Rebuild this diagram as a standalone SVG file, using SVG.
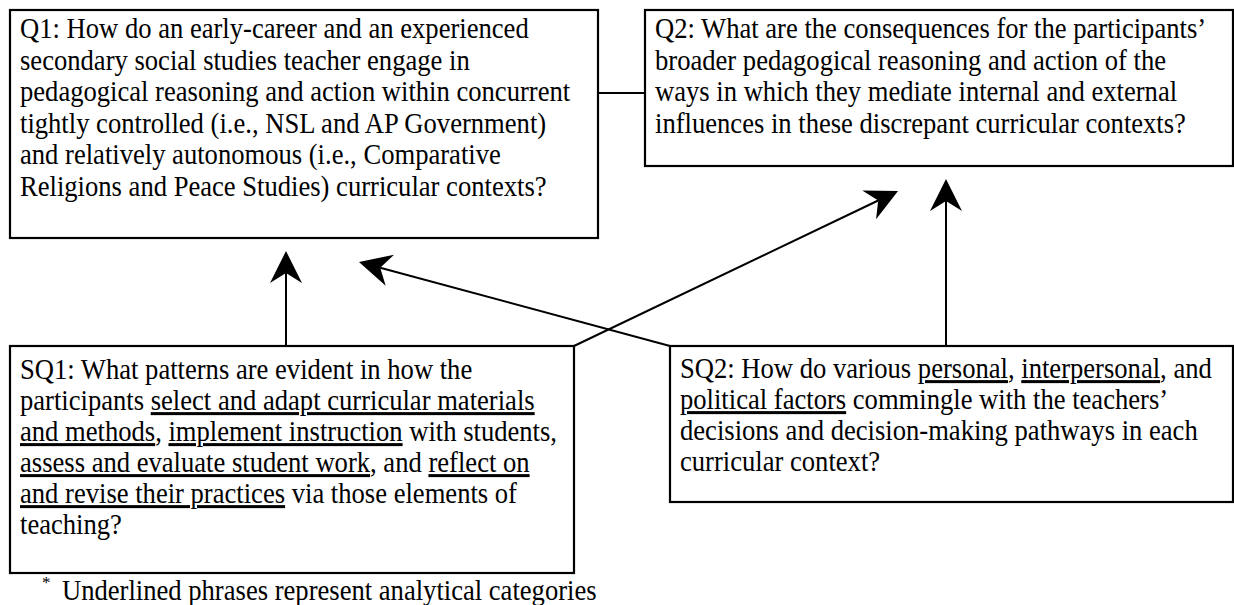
<svg xmlns="http://www.w3.org/2000/svg" width="1234" height="605" viewBox="0 0 1234 605">
<style>
.box{fill:#fff;stroke:#000;stroke-width:2.2}
.t{font-family:"Liberation Serif","Times New Roman",serif;font-size:26.6px;fill:#000}
.u{text-decoration:underline}
.c{stroke:#000;stroke-width:2;fill:none}
</style>
<defs>
<marker id="ah" markerUnits="userSpaceOnUse" orient="auto" markerWidth="36" markerHeight="36" viewBox="-12 -18 36 36" refX="0" refY="0">
<path d="M22,0 L-10,-16 L0,0 L-10,16 Z" fill="#000"/>
</marker>
</defs>
<rect width="1234" height="605" fill="#fff"/>
<g id="connectors">
<line class="c" x1="598" y1="93" x2="645" y2="93"/>
<line class="c" x1="286" y1="346" x2="286" y2="273" marker-end="url(#ah)"/>
<line class="c" x1="946" y1="346" x2="946" y2="201" marker-end="url(#ah)"/>
<line class="c" x1="574" y1="346" x2="878.2" y2="200.5" marker-end="url(#ah)"/>
<line class="c" x1="670" y1="346" x2="380.2" y2="267.7" marker-end="url(#ah)"/>
</g>
<g id="Q1">
<rect class="box" x="10" y="10" width="588" height="228"/>
<text class="t" transform="translate(20,38) scale(1,1.13)">Q1: How do an early-career and an experienced</text>
<text class="t" transform="translate(20,69.5) scale(1,1.13)">secondary social studies teacher engage in</text>
<text class="t" transform="translate(20,101) scale(1,1.13)">pedagogical reasoning and action within concurrent</text>
<text class="t" transform="translate(20,132.5) scale(1,1.13)">tightly controlled (i.e., NSL and AP Government)</text>
<text class="t" transform="translate(20,164) scale(1,1.13)">and relatively autonomous (i.e., Comparative</text>
<text class="t" transform="translate(20,195.5) scale(1,1.13)">Religions and Peace Studies) curricular contexts?</text>
</g>
<g id="Q2">
<rect class="box" x="645" y="10" width="588" height="156"/>
<text class="t" transform="translate(655,38) scale(1,1.13)">Q2: What are the consequences for the participants’</text>
<text class="t" transform="translate(655,69.5) scale(1,1.13)">broader pedagogical reasoning and action of the</text>
<text class="t" transform="translate(655,101) scale(1,1.13)">ways in which they mediate internal and external</text>
<text class="t" transform="translate(655,132.5) scale(1,1.13)">influences in these discrepant curricular contexts?</text>
</g>
<g id="SQ1">
<rect class="box" x="10" y="346" width="564" height="227"/>
<text class="t" transform="translate(20,379) scale(1,1.13)">SQ1: What patterns are evident in how the</text>
<text class="t" transform="translate(20,410) scale(1,1.13)">participants <tspan class="u">select and adapt curricular materials</tspan></text>
<text class="t" transform="translate(20,441) scale(1,1.13)"><tspan class="u">and methods</tspan>, <tspan class="u">implement instruction</tspan> with students,</text>
<text class="t" transform="translate(20,472) scale(1,1.13)"><tspan class="u">assess and evaluate student work</tspan>, and <tspan class="u">reflect on</tspan></text>
<text class="t" transform="translate(20,503) scale(1,1.13)"><tspan class="u">and revise their practices</tspan> via those elements of</text>
<text class="t" transform="translate(20,534) scale(1,1.13)">teaching?</text>
</g>
<g id="SQ2">
<rect class="box" x="670" y="346" width="563" height="156"/>
<text class="t" transform="translate(680,378) scale(1,1.13)">SQ2: How do various <tspan class="u">personal</tspan>, <tspan class="u">interpersonal</tspan>, and</text>
<text class="t" transform="translate(680,409) scale(1,1.13)"><tspan class="u">political factors</tspan> commingle with the teachers’</text>
<text class="t" transform="translate(680,440) scale(1,1.13)">decisions and decision-making pathways in each</text>
<text class="t" transform="translate(680,471) scale(1,1.13)">curricular context?</text>
</g>
<g id="footnote">
<text class="t" x="42" y="588" style="font-size:17px">*</text>
<text class="t" transform="translate(62,600) scale(1,1.13)">Underlined phrases represent analytical categories</text>
</g>
</svg>
